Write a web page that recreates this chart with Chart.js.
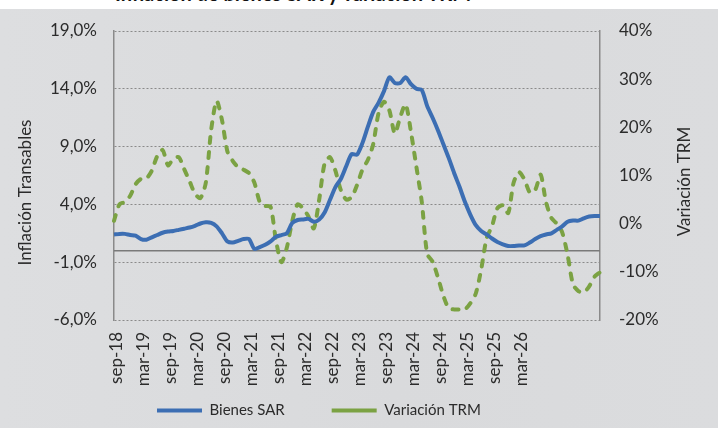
<!DOCTYPE html>
<html>
<head>
<meta charset="utf-8">
<script src="https://cdn.jsdelivr.net/npm/chart.js@4.4.1/dist/chart.umd.min.js"></script>
<style>
body { margin: 0; background: #fff; }
#wrap { position: relative; width: 718px; height: 428px; overflow: hidden; background: #fff; }
#bg { position: absolute; left: 0; top: 9px; width: 718px; height: 419px; background: linear-gradient(90deg, #dddee0, #d9dadc 55%, #dbdcde); }
#ttl { position: absolute; left: 0; top: 0; width: 718px; height: 9px; overflow: hidden; }
#ttl span { position: absolute; left: 115px; top: -19.5px; font: bold 20px Lato, sans-serif; color: #111; white-space: nowrap; }
canvas { position: absolute; left: 0; top: 0; }
</style>
</head>
<body>
<div id="wrap">
  <div id="bg"></div>
  <div id="ttl"><span>Inflación de bienes SAR y variación TRM</span></div>
  <canvas id="myChart" width="718" height="428"></canvas>
</div>
<script>
// x axis tick labels (every 6 months)
var tickLabels = ['sep-18', 'mar-19', 'sep-19', 'mar-20', 'sep-20', 'mar-21', 'sep-21', 'mar-22',
  'sep-22', 'mar-23', 'sep-23', 'mar-24', 'sep-24', 'mar-25', 'sep-25', 'mar-26'];

// monthly categories, sep-18 .. mar-26
var monthNames = ['ene', 'feb', 'mar', 'abr', 'may', 'jun', 'jul', 'ago', 'sep', 'oct', 'nov', 'dic'];
var months = [];
for (var k = 0; k < 91; k++) {
  var m = (8 + k) % 12;
  var yr = 18 + Math.floor((8 + k) / 12);
  months.push(monthNames[m] + '-' + yr);
}

// Inflacion bienes SAR (%), left axis
var bienesSAR = [1.4, 1.45, 1.45, 1.35, 1.3, 1.0, 0.95, 1.15, 1.35, 1.55, 1.65, 1.7, 1.8, 1.9, 2.0, 2.15,
  2.35, 2.45, 2.4, 2.1, 1.5, 0.8, 0.7, 0.85, 1.0, 1.0, 0.15, 0.3, 0.5, 0.8, 1.2, 1.35, 1.5, 2.4, 2.65,
  2.7, 2.75, 2.5, 2.7, 3.3, 4.4, 5.5, 6.2, 7.3, 8.35, 8.3, 9.3, 10.7, 12.0, 12.8, 13.8, 15.0, 14.5, 14.5,
  15.0, 14.4, 14.0, 13.9, 12.5, 11.5, 10.4, 9.2, 8.0, 6.7, 5.5, 4.2, 3.1, 2.2, 1.7, 1.4, 1.05, 0.75,
  0.55, 0.4, 0.4, 0.45, 0.45, 0.7, 1.0, 1.25, 1.4, 1.5, 1.8, 2.1, 2.5, 2.6, 2.6, 2.8, 2.95, 3.0, 3.0];

// Variacion anual TRM (%), right axis
var variacionTRM = [0.6, 4.0, 4.5, 5.8, 8.2, 9.3, 9.4, 11.0, 14.0, 15.3, 12.1, 13.5, 13.8, 11.3, 8.8,
  6.2, 5.3, 8.5, 19.5, 25.5, 21.5, 15.0, 13.0, 11.7, 11.2, 10.5, 8.5, 4.5, 3.7, 3.5, -3.5, -8.0, -5.0,
  0.5, 4.0, 3.2, 1.5, -1.0, 5.0, 12.5, 13.8, 11.0, 7.0, 5.0, 5.5, 8.0, 11.2, 13.2, 16.5, 23.0, 25.3,
  23.5, 18.7, 22.1, 24.8, 19.0, 11.8, 4.5, -6.3, -7.9, -11.2, -15.0, -17.6, -17.8, -17.8, -17.8, -16.5,
  -14.5, -9.5, -3.0, -0.5, 3.2, 3.8, 2.2, 8.5, 10.7, 9.2, 6.5, 7.0, 10.2, 4.5, 1.2, 0.0, -1.8, -6.5,
  -12.6, -14.0, -14.3, -13.0, -11.0, -10.1];

var blue = '#3C6EB3';
var green = '#7BA243';
var gridGray = '#8a8a8a';
var textCol = '#2b2b2b';

Chart.defaults.font.family = "Lato, 'Open Sans', sans-serif";
Chart.defaults.color = textCol;

// solid line at 0 on the left axis
var zeroLine = {
  id: 'zeroLine',
  beforeDatasetsDraw: function(chart) {
    var ctx = chart.ctx, a = chart.chartArea;
    var y = chart.scales.y.getPixelForValue(0);
    ctx.save();
    ctx.strokeStyle = '#7a7a7a';
    ctx.lineWidth = 1.5;
    ctx.beginPath();
    ctx.moveTo(a.left, y);
    ctx.lineTo(a.right, y);
    ctx.stroke();
    ctx.restore();
  }
};

// axis titles, both read bottom to top
var axisTitles = {
  id: 'axisTitles',
  afterDraw: function(chart) {
    var ctx = chart.ctx, a = chart.chartArea;
    var mid = (a.top + a.bottom) / 2;
    ctx.save();
    ctx.fillStyle = textCol;
    ctx.font = "17px Lato, 'Open Sans', sans-serif";
    ctx.textAlign = 'center';
    ctx.textBaseline = 'middle';
    ctx.translate(a.left - 88, mid + 17);
    ctx.rotate(-Math.PI / 2);
    ctx.fillText('Inflación Transables', 0, 0);
    ctx.restore();
    ctx.save();
    ctx.fillStyle = textCol;
    ctx.font = "17px Lato, 'Open Sans', sans-serif";
    ctx.textAlign = 'center';
    ctx.textBaseline = 'middle';
    ctx.translate(a.right + 85, mid + 6);
    ctx.rotate(-Math.PI / 2);
    ctx.fillText('Variación TRM', 0, 0);
    ctx.restore();
  }
};

// the legend uses a wide padding for the gap between its two items;
// pull it back up and to the left so it sits where the original has it
var legendShift = {
  id: 'legendShift',
  afterLayout: function(chart) {
    chart.legend.left += 110;
    chart.legend.right += 110;
    chart.legend.top -= 36;
    chart.legend.bottom -= 36;
  }
};

new Chart('myChart', {
  type: 'line',
  data: {
    labels: months,
    datasets: [{
      label: 'Bienes SAR',
      data: bienesSAR,
      yAxisID: 'y',
      xAxisID: 'x',
      borderColor: blue,
      backgroundColor: blue,
      borderWidth: 4,
      pointRadius: 0,
      tension: 0.25,
      fill: false
    }, {
      label: 'Variación TRM',
      data: variacionTRM,
      yAxisID: 'y1',
      xAxisID: 'x',
      borderColor: green,
      backgroundColor: green,
      borderWidth: 4,
      borderDash: [6, 9],
      borderCapStyle: 'round',
      pointRadius: 0,
      tension: 0.25,
      fill: false
    }]
  },
  options: {
    responsive: false,
    animation: false,
    layout: { padding: { top: 31, bottom: -36, left: 0, right: 0 } },
    plugins: {
      tooltip: { enabled: false },
      legend: {
        position: 'bottom',
        align: 'start',
        labels: {
          usePointStyle: true,
          pointStyleWidth: 45,
          pointStyle: 'line',
          padding: 47,
          color: textCol,
          font: { size: 15 }
        }
      }
    },
    scales: {
      x: { display: false },
      xt: {
        type: 'linear',
        position: 'bottom',
        min: -0.111,
        max: 17.889,
        afterBuildTicks: function(axis) {
          axis.ticks = tickLabels.map(function(t, i) { return { value: i }; });
        },
        afterFit: function(axis) { axis.height = 72; },
        ticks: {
          autoSkip: false,
          minRotation: 90,
          maxRotation: 90,
          padding: 12,
          font: { size: 17 },
          callback: function(v) { return tickLabels[v]; }
        },
        grid: { display: false, drawTicks: false },
        border: { display: false }
      },
      y: {
        position: 'left',
        min: -6,
        max: 19,
        afterFit: function(axis) { axis.width = 114; },
        ticks: {
          stepSize: 5,
          padding: 17,
          font: { size: 17 },
          callback: function(v) { return v.toFixed(1).replace('.', ',') + '%'; }
        },
        grid: { color: gridGray, drawTicks: false, lineWidth: 1 },
        border: { display: true, color: gridGray, width: 1.5, dash: [2, 2] }
      },
      y1: {
        position: 'right',
        min: -20,
        max: 40,
        afterFit: function(axis) { axis.width = 118; },
        ticks: {
          stepSize: 10,
          padding: 19,
          font: { size: 17 },
          callback: function(v) { return v + '%'; }
        },
        grid: { display: false, drawTicks: false },
        border: { display: true, color: gridGray, width: 1.5 }
      }
    }
  },
  plugins: [zeroLine, axisTitles, legendShift]
});
</script>
</body>
</html>
